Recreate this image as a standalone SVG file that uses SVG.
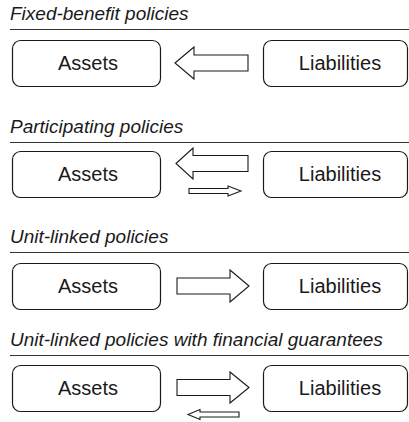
<svg xmlns="http://www.w3.org/2000/svg" width="409" height="422" viewBox="0 0 409 422">
  <style>
    .title { font-family: "Liberation Sans", Arial, sans-serif; font-style: italic; font-size: 19px; fill: #1a1a1a; }
    .rule { stroke: #333; stroke-width: 1.2; }
    .box { fill: #fff; stroke: #1a1a1a; stroke-width: 1.2; }
    .label { font-family: "Liberation Sans", Arial, sans-serif; font-size: 20px; fill: #1a1a1a; text-anchor: middle; }
    .arrow { fill: #fff; stroke: #1a1a1a; stroke-width: 1.1; stroke-linejoin: miter; }
  </style>
  <rect width="409" height="422" fill="#fff"/>

  <!-- Section headings with their rules -->
  <g id="headings">
    <text class="title" x="10" y="20">Fixed-benefit policies</text>
    <line class="rule" x1="10" y1="29.5" x2="409" y2="29.5"/>
    <text class="title" x="10" y="133">Participating policies</text>
    <line class="rule" x1="10" y1="142.5" x2="409" y2="142.5"/>
    <text class="title" x="10" y="243">Unit-linked policies</text>
    <line class="rule" x1="10" y1="252.5" x2="409" y2="252.5"/>
    <text class="title" x="10" y="346">Unit-linked policies with financial guarantees</text>
    <line class="rule" x1="10" y1="355.5" x2="409" y2="355.5"/>
  </g>

  <!-- Fixed-benefit -->
  <g id="assets-1">
    <rect class="box" x="12.5" y="40.5" width="148" height="46" rx="8"/>
    <text class="label" x="88" y="70">Assets</text>
  </g>
  <g id="liabilities-1">
    <rect class="box" x="263.5" y="40.5" width="144" height="46" rx="8"/>
    <text class="label" x="340" y="70">Liabilities</text>
  </g>

  <!-- Participating -->
  <g id="assets-2">
    <rect class="box" x="12.5" y="151.5" width="148" height="46" rx="8"/>
    <text class="label" x="88" y="181">Assets</text>
  </g>
  <g id="liabilities-2">
    <rect class="box" x="263.5" y="151.5" width="144" height="46" rx="8"/>
    <text class="label" x="340" y="181">Liabilities</text>
  </g>

  <!-- Unit-linked -->
  <g id="assets-3">
    <rect class="box" x="12.5" y="263.5" width="148" height="46" rx="8"/>
    <text class="label" x="88" y="293">Assets</text>
  </g>
  <g id="liabilities-3">
    <rect class="box" x="263.5" y="263.5" width="144" height="46" rx="8"/>
    <text class="label" x="340" y="293">Liabilities</text>
  </g>

  <!-- Unit-linked with guarantees -->
  <g id="assets-4">
    <rect class="box" x="12.5" y="365.5" width="148" height="46" rx="8"/>
    <text class="label" x="88" y="395">Assets</text>
  </g>
  <g id="liabilities-4">
    <rect class="box" x="263.5" y="365.5" width="144" height="46" rx="8"/>
    <text class="label" x="340" y="395">Liabilities</text>
  </g>

  <!-- Block arrows between assets and liabilities -->
  <g id="connectors">
    <path class="arrow" d="M175,63 L194,47 L194,55 L248,55 L248,71 L194,71 L194,79 Z"/>
    <path class="arrow" d="M176,163.5 L193,148 L193,155.5 L248,155.5 L248,171.5 L193,171.5 L193,179 Z"/>
    <path class="arrow" d="M241,191 L228,186 L228,188.5 L189,188.5 L189,193.5 L228,193.5 L228,196 Z"/>
    <path class="arrow" d="M249,286 L230,270 L230,278 L177,278 L177,294 L230,294 L230,302 Z"/>
    <path class="arrow" d="M249,387.5 L230,372 L230,379.5 L177,379.5 L177,395.5 L230,395.5 L230,403 Z"/>
    <path class="arrow" d="M188,414.5 L200,409.5 L200,412 L239,412 L239,417 L200,417 L200,419.5 Z"/>
  </g>
</svg>
